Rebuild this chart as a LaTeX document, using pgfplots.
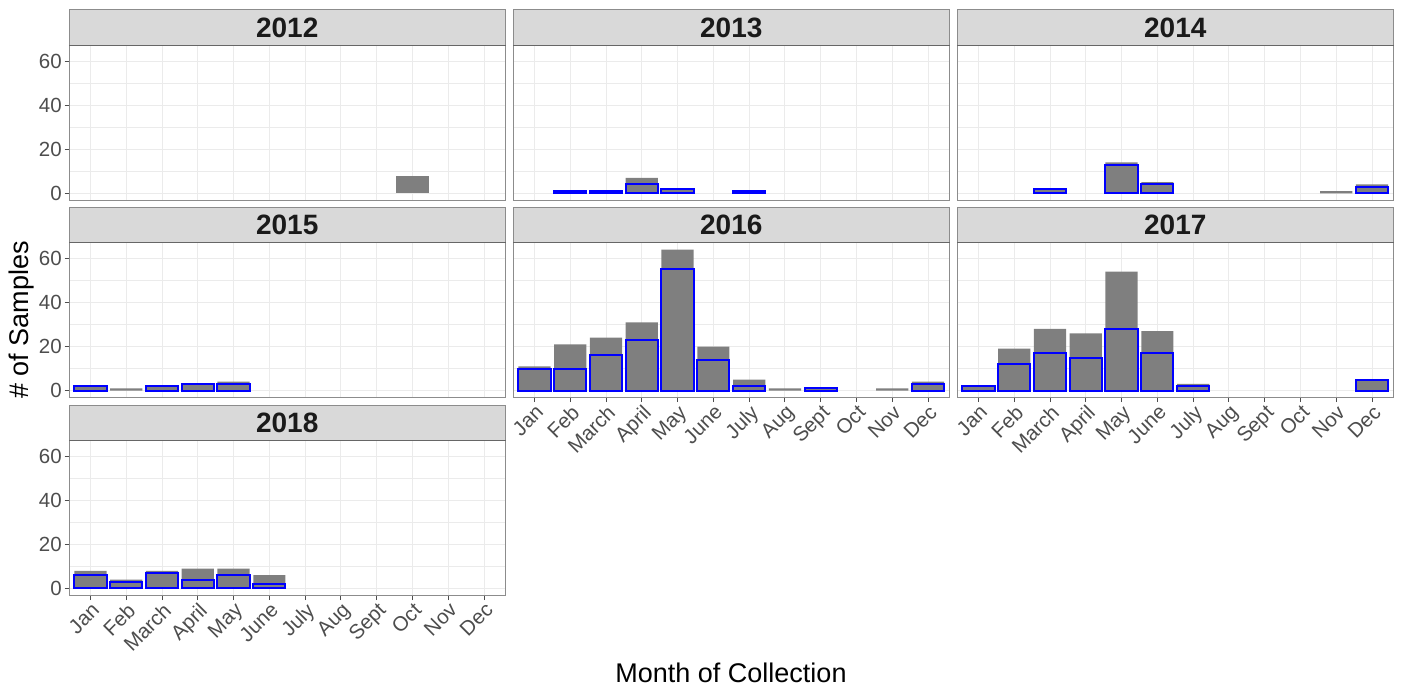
\documentclass[border=0pt]{standalone}
\usepackage{pgfplots}
\pgfplotsset{compat=1.18}
\usepackage{pgfplotstable}
\usepackage{fontspec}
\setmainfont{Liberation Sans}

\definecolor{bargray}{HTML}{7F7F7F}
\definecolor{gridgray}{HTML}{EBEBEB}
\definecolor{bordergray}{HTML}{8C8C8C}
\definecolor{stripgray}{HTML}{D9D9D9}
\definecolor{stripline}{HTML}{666666}
\definecolor{ticklab}{HTML}{4D4D4D}
\definecolor{tickcol}{HTML}{4D4D4D}
\definecolor{outblue}{HTML}{0000FF}

% m = month (1=Jan ... 12=Dec), tot = all samples (grey), blu = subset (blue outline)
\pgfplotstableread{
m tot blu
10 8 nan
}\dA
\pgfplotstableread{
m tot blu
2 1 1
3 1 1
4 7 4
5 2 2
7 1 1
}\dB
\pgfplotstableread{
m tot blu
3 2 2
5 14 13
6 5 4
11 1 nan
12 4 3
}\dC
\pgfplotstableread{
m tot blu
1 2 2
2 1 nan
3 2 2
4 3 3
5 4 3
}\dD
\pgfplotstableread{
m tot blu
1 11 10
2 21 10
3 24 16
4 31 23
5 64 55
6 20 14
7 5 2
8 1 nan
9 1 1
11 1 nan
12 4 3
}\dE
\pgfplotstableread{
m tot blu
1 2 2
2 19 12
3 28 17
4 26 15
5 54 28
6 27 17
7 3 2
12 5 5
}\dF
\pgfplotstableread{
m tot blu
1 8 6
2 4 3
3 8 7
4 9 4
5 9 6
6 6 2
}\dG

\pgfplotsset{
  panel/.style={
    scale only axis, width=436.5pt, height=155pt, anchor=north west,
    xmin=0.4, xmax=12.6, ymin=-3.2, ymax=67.2,
    xtick={1,...,12}, ytick={0,20,40,60}, minor ytick={10,30,50},
    xmajorgrids, ymajorgrids, yminorgrids,
    major grid style={gridgray, line width=1pt},
    minor grid style={gridgray, line width=0.55pt},
    axis line style={bordergray, line width=1pt},
    tick align=outside, tick pos=left,
    major tick length=4.5pt, minor tick length=0pt,
    every tick/.style={tickcol, line width=1pt},
    tick label style={font=\fontsize{20.5}{20.5}\selectfont, text=ticklab},
    /pgf/number format/assume math mode=true,
    xticklabels={Jan,Feb,March,April,May,June,July,Aug,Sept,Oct,Nov,Dec},
    xticklabel style={rotate=45, anchor=north east, inner sep=1pt},
    yticklabel style={inner sep=1pt, xshift=-1.5pt},
  },
  noy/.style={yticklabels={}, ytick style={draw=none}},
  nox/.style={xticklabels={}, xtick style={draw=none}},
}

\newcommand{\bars}[1]{%
  \addplot[ybar, bar width=0.9, bar shift=0pt, fill=bargray, draw=none] table[x=m,y=tot]{#1};
  \addplot[ybar, bar width=0.9, bar shift=0pt, fill=bargray, draw=outblue, line width=2pt] table[x=m,y=blu]{#1};
}
\newcommand{\strip}[3]{% left x, top y, label
  \fill[stripgray] (#1pt,#2pt) rectangle ++(436.5pt,-35.3pt);
  \draw[bordergray, line width=1pt] (#1pt,#2pt) rectangle ++(436.5pt,-35.3pt);
  \draw[stripline, line width=1pt] (#1pt,#2pt) ++(0pt,-35.3pt) -- ++(436.5pt,0pt);
  \node[font=\fontsize{28}{28}\selectfont\bfseries, text={rgb,255:red,26;green,26;blue,26}]
    at ([shift={(218.25pt,-17.65pt)}]#1pt,#2pt) {#3};
}

\begin{document}
\begin{tikzpicture}
\path[use as bounding box] (0pt,0pt) rectangle (1402pt,686pt);

% Row 1
\begin{axis}[panel, nox, at={(69pt,640.7pt)}]
\bars{\dA}
\end{axis}
\begin{axis}[panel, nox, noy, at={(513pt,640.7pt)}]
\bars{\dB}
\end{axis}
\begin{axis}[panel, nox, noy, at={(957pt,640.7pt)}]
\bars{\dC}
\end{axis}
% Row 2
\begin{axis}[panel, nox, at={(69pt,443.4pt)}]
\bars{\dD}
\end{axis}
\begin{axis}[panel, noy, at={(513pt,443.4pt)}]
\bars{\dE}
\end{axis}
\begin{axis}[panel, noy, at={(957pt,443.4pt)}]
\bars{\dF}
\end{axis}
% Row 3
\begin{axis}[panel, at={(69pt,245.5pt)}]
\bars{\dG}
\end{axis}

\strip{69}{676}{2012}
\strip{513}{676}{2013}
\strip{957}{676}{2014}
\strip{69}{478.7}{2015}
\strip{513}{478.7}{2016}
\strip{957}{478.7}{2017}
\strip{69}{280.8}{2018}

\node[rotate=90, font=\fontsize{27}{27}\selectfont] at (21.5pt,366pt) {\# of Samples};
\node[font=\fontsize{27}{27}\selectfont] at (731pt,13pt) {Month of Collection};
\end{tikzpicture}
\end{document}
